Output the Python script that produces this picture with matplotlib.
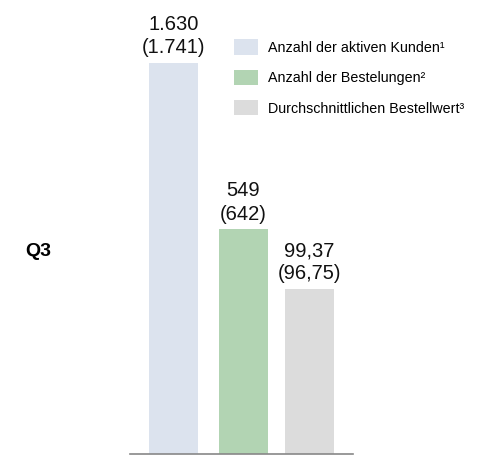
import matplotlib
matplotlib.use("Agg")
import matplotlib.pyplot as plt
from matplotlib.patches import Patch

plt.rcParams['font.family'] = ['Liberation Sans', 'DejaVu Sans']

categories = ["Anzahl der aktiven Kunden¹", "Anzahl der Bestelungen²", "Durchschnittlichen Bestellwert³"]
current_labels = ["1.630", "549", "99,37"]
previous_labels = ["(1.741)", "(642)", "(96,75)"]
# relative bar heights as displayed (index, largest = 100)
bar_heights = [100, 57.5, 42.2]
colors = ["#DCE3EE", "#B2D4B3", "#DCDCDC"]
period = "Q3"

fig = plt.figure(figsize=(4.9, 4.55), dpi=100)
W, H = 490, 455
ax = fig.add_axes([130 / W, 1 - 454 / H, (353 - 130) / W, 454 / H])

xpos = [0, 1, 1.943]
ax.bar(xpos, bar_heights, width=0.7, color=colors, zorder=2)
for x, h, c, p in zip(xpos, bar_heights, current_labels, previous_labels):
    ax.annotate(c + "\n" + p, (x, h), xytext=(0, 4), textcoords="offset points",
                ha="center", va="bottom", fontsize=14.5, linespacing=1.28, color="#111111")

ax.set_xlim(-0.621, 2.564)
ax.set_ylim(0, 100 * 454 / 391)
for s in ["top", "right", "left"]:
    ax.spines[s].set_visible(False)
ax.spines["bottom"].set_color("#888888")
ax.spines["bottom"].set_linewidth(1.2)
ax.set_xticks([])
ax.set_yticks([])
ax.patch.set_alpha(0)

fig.text(25 / W, 1 - 252 / H, period, fontsize=14, fontweight="bold", va="center", ha="left")

handles = [Patch(facecolor=c, edgecolor="none") for c in colors]
fig.legend(handles, categories, loc="upper left", bbox_to_anchor=(230 / W, 1 - 35 / H),
           frameon=False, fontsize=10.3, handlelength=1.68, handleheight=1.26,
           labelspacing=1.05, handletextpad=0.7, borderaxespad=0, borderpad=0.3)

fig.savefig("out.png", dpi=100)
